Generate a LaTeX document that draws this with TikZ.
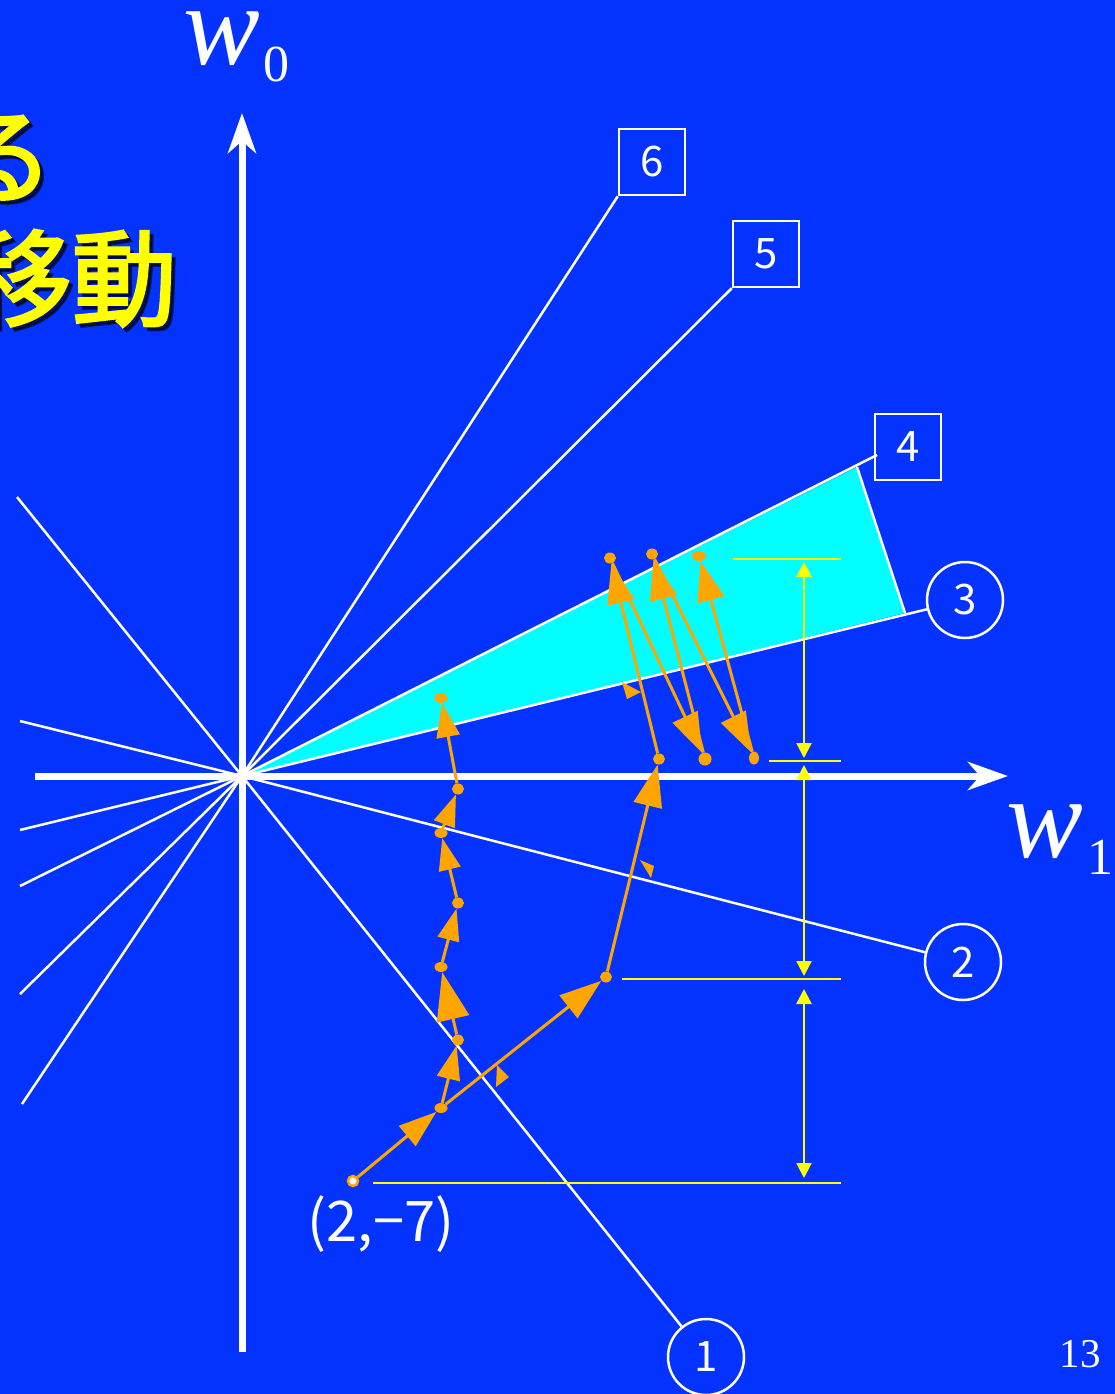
\documentclass[tikz,border=0pt]{standalone}
\usepackage{fontspec}
\setmainfont{Liberation Serif}
\newfontfamily\jp{Noto Sans CJK JP}
\newfontfamily\jpb[FakeBold=2.5]{Noto Sans CJK JP}
\usetikzlibrary{arrows.meta,shapes.geometric}
\definecolor{bg}{RGB}{4,51,255}
\definecolor{org}{RGB}{255,165,0}
\definecolor{cyn}{RGB}{0,255,255}
\definecolor{yel}{RGB}{255,255,0}
\tikzset{
  axisline/.style={draw=white,line width=7,-{Stealth[length=40,width=28,inset=12]}},
  wline/.style={draw=white,line width=2.5},
  circn/.style={circle,draw=white,line width=2.5,minimum size=76,inner sep=0,text=white,font=\jp\fontsize{42}{42}\selectfont},
  boxn/.style={rectangle,draw=white,line width=2.5,minimum width=66,minimum height=66,inner sep=0,text=white,font=\jp\fontsize{42}{42}\selectfont},
  dot/.style={ellipse,fill=org,minimum width=12,minimum height=11,inner sep=0},
  opath/.style={draw=org,line width=3},
  oarr/.style={opath,-{Triangle[length=#1,width=0.68*#1]}},
  oarr/.default=34,
  yline/.style={draw=yel,line width=2.5},
  yarr/.style={draw=yel,line width=2.5,{Triangle[length=15,width=15]}-{Triangle[length=15,width=15]}},
  jptext/.style={inner sep=0,font=\jpb\fontsize{105}{105}\selectfont},
  mtext/.style={inner sep=0,text=white}
}
\begin{document}
\begin{tikzpicture}[x=1pt,y=-1pt]
\path[use as bounding box,fill=bg] (0,0) rectangle (1115,1394);

% Japanese title fragments (shadow + text)
\node[jptext,anchor=base east,text=black,opacity=0.6] at (58,199) {る};
\node[jptext,anchor=base east,text=yel] (t1) at (54,195) {る};
\node[jptext,anchor=base east,text=black,opacity=0.6] at (181,322) {移動};
\node[jptext,anchor=base east,text=yel] (t2) at (177,318) {移動};

% key points
\coordinate (O) at (242,776);
\coordinate (w4) at (857,467);
\coordinate (w3) at (905,613);
\coordinate (b4p) at (877,455);

% cyan region
\fill[cyn] (O) -- (w4) -- (w3) -- cycle;

% labels
\node[circn] (c1) at (706,1357) {1};
\node[circn] (c2) at (963,962) {2};
\node[circn] (c3) at (965,600) {3};
\node[boxn] (b4) at (908,447) {4};
\node[boxn] (b5) at (766,254) {5};
\node[boxn] (b6) at (652,162) {6};

% lines through origin
\coordinate (l1) at (17,497);
\coordinate (l2) at (20,721);
\coordinate (l3) at (20,830);
\coordinate (l4) at (20,886);
\coordinate (l5) at (20,994);
\coordinate (l6) at (22,1104);
\draw[wline] (l1) -- (O) -- (c1);
\draw[wline] (l2) -- (O) -- (c2);
\draw[wline] (l3) -- (O) -- (c3);
\draw[wline] (l4) -- (O) -- (b4p);
\draw[wline] (l5) -- (O) -- (b5.south west);
\draw[wline] (l6) -- (O) -- (b6.south west);
\draw[wline] (w4) -- (w3);

% axes
\coordinate (ax0) at (242,1352);
\coordinate (ay0) at (242,113);
\coordinate (bx0) at (35,776);
\coordinate (bx1) at (1008,776);
\draw[axisline] (ax0) -- (ay0);
\draw[axisline] (bx0) -- (bx1);

% axis labels
\node[mtext,anchor=base west,font=\itshape\fontsize{115}{115}\selectfont] (lw0) at (183,65) {w};
\node[mtext,anchor=base west,font=\fontsize{52}{52}\selectfont] (lw0s) at (263,82) {0};
\node[mtext,anchor=base west,font=\itshape\fontsize{115}{115}\selectfont] (lw1) at (1006,857) {w};
\node[mtext,anchor=base west,font=\fontsize{52}{52}\selectfont] (lw1s) at (1087,874) {1};
\node[mtext,font=\fontsize{41}{41}\selectfont] (pg) at (1080,1354) {13};

% yellow dimension lines
\coordinate (h1a) at (733,559);  \coordinate (h1b) at (841,559);
\coordinate (h2a) at (769,761);  \coordinate (h2b) at (841,761);
\coordinate (h3a) at (622,979);  \coordinate (h3b) at (841,979);
\coordinate (h4a) at (373,1183); \coordinate (h4b) at (841,1183);
\draw[yline] (h1a) -- (h1b);
\draw[yline] (h2a) -- (h2b);
\draw[yline] (h3a) -- (h3b);
\draw[yline] (h4a) -- (h4b);
\coordinate (v1) at (804,559);
\coordinate (v2) at (804,761);
\coordinate (v3) at (804,979);
\coordinate (v4) at (804,1183);
\draw[yarr,shorten <=3,shorten >=3] (v1) -- (v2);
\draw[yarr,shorten <=4,shorten >=3] (v2) -- (v3);
\draw[yarr,shorten <=10,shorten >=5] (v3) -- (v4);

% orange trajectory points
\node[circle,fill=white,draw=org,line width=2.5,minimum size=10,inner sep=0] (p0) at (353,1181) {};
\node[dot,minimum width=13,minimum height=10] (p1) at (441,1108) {};
\node[dot] (p2) at (458,1040) {};
\node[dot,minimum width=13,minimum height=10] (p3) at (441,967) {};
\node[dot] (p4) at (458,903) {};
\node[dot,minimum width=13,minimum height=10] (p5) at (441,833) {};
\node[dot] (p6) at (458,789) {};
\node[dot,minimum width=13,minimum height=10] (p7) at (441,698) {};
\node[dot] (q1) at (606,977) {};
\node[dot] (q2) at (659,759) {};
\node[dot] (za) at (610,558) {};
\node[dot,minimum width=13,minimum height=13] (zb) at (705,759) {};
\node[dot] (zc) at (652,554) {};
\node[dot,minimum width=10,minimum height=13] (zd) at (754,758) {};
\node[dot,minimum width=14,minimum height=10] (ze) at (699,556) {};

\draw[oarr=38] (p0) -- (p1);
\draw[oarr=34] (p1) -- (p2);
\draw[oarr=48] (p2) -- (p3);
\draw[oarr=32] (p3) -- (p4);
\draw[oarr=32] (p4) -- (p5);
\draw[oarr=32] (p5) -- (p6);
\draw[oarr=34] (p6) -- (p7);
\draw[oarr=42] (p1) -- (q1);
\draw[oarr=42] (q1) -- (q2);
\draw[oarr=40] (q2) -- (za);
\draw[oarr=40] (za) -- (zb);
\draw[oarr=40] (zb) -- (zc);
\draw[oarr=40] (zc) -- (zd);
\draw[oarr=40] (zd) -- (ze);

% small orange side markers
\fill[org] (497,1065) -- (509,1077) -- (496,1087) -- cycle;
\fill[org] (640,860) -- (654,866) -- (651,878) -- cycle;
\fill[org] (622,682) -- (641,692) -- (627,699) -- cycle;

% start label
\node[inner sep=0,text=white,font=\jp\fontsize{56}{56}\selectfont] (lab) at (381,1224) {(2,−7)};
\end{tikzpicture}
\end{document}
